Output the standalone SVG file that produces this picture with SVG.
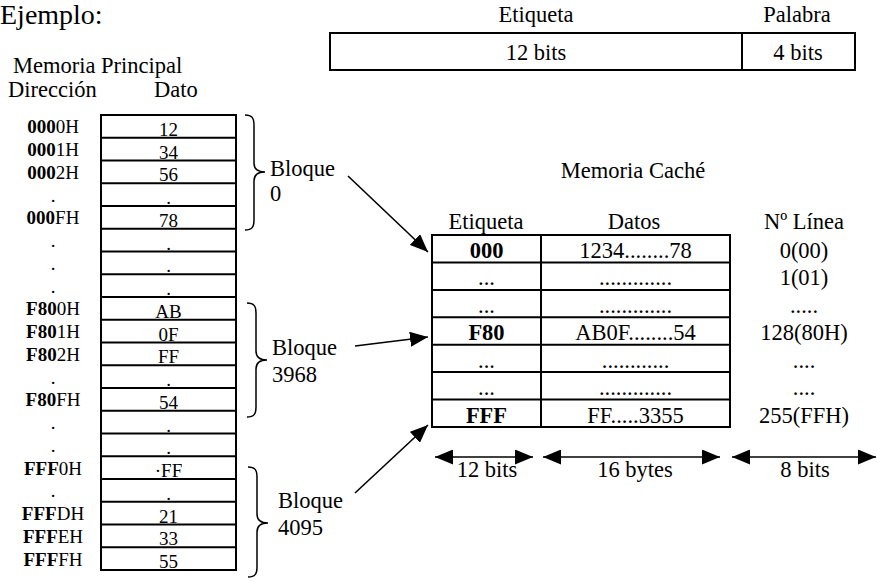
<svg xmlns="http://www.w3.org/2000/svg" width="877" height="582" viewBox="0 0 877 582" font-family="'Liberation Serif', 'Times New Roman', 'DejaVu Serif', serif">
<style>
text{font-family:'Liberation Serif','Times New Roman','DejaVu Serif',serif;fill:#000}
.h{font-size:22.5px}
.c{font-size:19px;text-anchor:middle}
.m{text-anchor:middle}
.b{font-weight:bold}
.box{fill:#fff;stroke:#000;stroke-width:2}
.ln{stroke:#000;stroke-width:2}
.br{fill:none;stroke:#000;stroke-width:1.5}
.ar{stroke:#000;stroke-width:1.6;fill:none}
</style>
<defs>
<marker id="ah" markerUnits="userSpaceOnUse" markerWidth="19" markerHeight="15" refX="18" refY="7.5" orient="auto-start-reverse"><path d="M0,0 L18,7.5 L0,15 z" fill="#000"/></marker>
</defs>
<rect width="877" height="582" fill="#fff"/>
<text x="0" y="24" style="font-size:28px">Ejemplo:</text>

<g id="direccion-formato">
<text class="h m" x="536" y="22">Etiqueta</text>
<text class="h m" x="797" y="22">Palabra</text>
<rect class="box" x="330" y="33" width="525" height="37"/>
<line class="ln" x1="742" y1="33" x2="742" y2="70"/>
<text class="h m" x="536" y="60">12 bits</text>
<text class="h m" x="798" y="60">4 bits</text>
</g>

<g id="memoria-principal">
<text class="h" x="13" y="73">Memoria Principal</text>
<text class="h" x="8" y="97">Dirección</text>
<text class="h" x="154" y="97">Dato</text>
<rect class="box" x="101" y="115" width="135" height="455"/>
<g class="ln">
<line x1="101" y1="137.75" x2="236" y2="137.75"/>
<line x1="101" y1="160.5" x2="236" y2="160.5"/>
<line x1="101" y1="183.25" x2="236" y2="183.25"/>
<line x1="101" y1="206" x2="236" y2="206"/>
<line x1="101" y1="228.75" x2="236" y2="228.75"/>
<line x1="101" y1="251.5" x2="236" y2="251.5"/>
<line x1="101" y1="274.25" x2="236" y2="274.25"/>
<line x1="101" y1="297" x2="236" y2="297"/>
<line x1="101" y1="319.75" x2="236" y2="319.75"/>
<line x1="101" y1="342.5" x2="236" y2="342.5"/>
<line x1="101" y1="365.25" x2="236" y2="365.25"/>
<line x1="101" y1="388" x2="236" y2="388"/>
<line x1="101" y1="410.75" x2="236" y2="410.75"/>
<line x1="101" y1="433.5" x2="236" y2="433.5"/>
<line x1="101" y1="456.25" x2="236" y2="456.25"/>
<line x1="101" y1="479" x2="236" y2="479"/>
<line x1="101" y1="501.75" x2="236" y2="501.75"/>
<line x1="101" y1="524.5" x2="236" y2="524.5"/>
<line x1="101" y1="547.25" x2="236" y2="547.25"/>
</g>
<g class="c">
<text x="168.5" y="136">12</text>
<text x="168.5" y="158.5">34</text>
<text x="168.5" y="181.2">56</text>
<text x="168.5" y="204">.</text>
<text x="168.5" y="226.7">78</text>
<text x="168.5" y="249.5">.</text>
<text x="168.5" y="272.2">.</text>
<text x="168.5" y="295">.</text>
<text x="168.5" y="317.7">AB</text>
<text x="168.5" y="340.5">0F</text>
<text x="168.5" y="363.2">FF</text>
<text x="168.5" y="386">.</text>
<text x="168.5" y="408.7">54</text>
<text x="168.5" y="431.5">.</text>
<text x="168.5" y="454.2">.</text>
<text x="168.5" y="477">·FF</text>
<text x="168.5" y="499.7">.</text>
<text x="168.5" y="522.5">21</text>
<text x="168.5" y="545.2">33</text>
<text x="168.5" y="568">55</text>
</g>
<g class="c">
<text x="53" y="133.3"><tspan class="b">000</tspan>0H</text>
<text x="53" y="156"><tspan class="b">000</tspan>1H</text>
<text x="53" y="178.8"><tspan class="b">000</tspan>2H</text>
<text x="53" y="201.5">.</text>
<text x="53" y="224.3"><tspan class="b">000</tspan>FH</text>
<text x="53" y="247">.</text>
<text x="53" y="269.8">.</text>
<text x="53" y="292.5">.</text>
<text x="53" y="315.3"><tspan class="b">F80</tspan>0H</text>
<text x="53" y="338"><tspan class="b">F80</tspan>1H</text>
<text x="53" y="360.8"><tspan class="b">F80</tspan>2H</text>
<text x="53" y="383.5">.</text>
<text x="53" y="406.3"><tspan class="b">F80</tspan>FH</text>
<text x="53" y="429">.</text>
<text x="53" y="451.8">.</text>
<text x="53" y="474.5"><tspan class="b">FFF</tspan>0H</text>
<text x="53" y="497.3">.</text>
<text x="53" y="520"><tspan class="b">FFF</tspan>DH</text>
<text x="53" y="542.8"><tspan class="b">FFF</tspan>EH</text>
<text x="53" y="565.5"><tspan class="b">FFF</tspan>FH</text>
</g>
</g>

<g id="bloque-0">
<path class="br" d="M245,115 C252,115 254,118 254,125 L254,163 C254,169 258,172 265,172 C258,172 254,175 254,181 L254,220 C254,227 252,230 245,230"/>
<text class="h" x="270" y="176">Bloque</text>
<text class="h" x="270" y="201">0</text>
</g>
<g id="bloque-3968">
<path class="br" d="M247,303 C254,303 256,306 256,313 L256,351 C256,357 260,360 267,360 C260,360 256,363 256,369 L256,407 C256,414 254,417 247,417"/>
<text class="h" x="272" y="355">Bloque</text>
<text class="h" x="272" y="382">3968</text>
</g>
<g id="bloque-4095">
<path class="br" d="M248,467 C255,467 257,470 257,477 L257,514 C257,520 261,523 268,523 C261,523 257,526 257,532 L257,567 C257,574 255,577 248,577"/>
<text class="h" x="278" y="508">Bloque</text>
<text class="h" x="278" y="535">4095</text>
</g>

<g id="memoria-cache">
<text class="h m" x="633" y="178">Memoria Caché</text>
<text class="h m" x="486" y="229">Etiqueta</text>
<text class="h m" x="634" y="229">Datos</text>
<text class="h m" x="804" y="229">Nº Línea</text>
<rect class="box" x="432" y="235" width="298" height="192"/>
<g class="ln">
<line x1="541" y1="235" x2="541" y2="427"/>
<line x1="432" y1="262.4" x2="730" y2="262.4"/>
<line x1="432" y1="289.9" x2="730" y2="289.9"/>
<line x1="432" y1="317.3" x2="730" y2="317.3"/>
<line x1="432" y1="344.7" x2="730" y2="344.7"/>
<line x1="432" y1="372.1" x2="730" y2="372.1"/>
<line x1="432" y1="399.6" x2="730" y2="399.6"/>
</g>
<g class="h m">
<text x="486.5" y="258" class="b">000</text>
<text x="635.5" y="258">1234........78</text>
<text x="804" y="258">0(00)</text>
<text x="486.5" y="285">...</text>
<text x="635.5" y="285">.............</text>
<text x="804" y="285">1(01)</text>
<text x="486.5" y="312.5">...</text>
<text x="635.5" y="312.5">.............</text>
<text x="804" y="312.5">.....</text>
<text x="486.5" y="340" class="b">F80</text>
<text x="635.5" y="340">AB0F........54</text>
<text x="804" y="340">128(80H)</text>
<text x="486.5" y="367.5">...</text>
<text x="635.5" y="367.5">............</text>
<text x="804" y="367.5">....</text>
<text x="486.5" y="395">...</text>
<text x="635.5" y="395">.............</text>
<text x="804" y="395">....</text>
<text x="486.5" y="422.5" class="b">FFF</text>
<text x="635.5" y="422.5">FF.....3355</text>
<text x="804" y="422.5">255(FFH)</text>
</g>
</g>

<g id="medidas">
<text class="h m" x="487" y="477">12 bits</text>
<text class="h m" x="635" y="477">16 bytes</text>
<text class="h m" x="805" y="477">8 bits</text>
</g>

<g id="connectors">
<line class="ar" x1="348" y1="176" x2="428" y2="252" marker-end="url(#ah)"/>
<line class="ar" x1="355" y1="346" x2="428" y2="337" marker-end="url(#ah)"/>
<line class="ar" x1="355" y1="493" x2="428" y2="425" marker-end="url(#ah)"/>
<line class="ar" x1="435" y1="457" x2="533" y2="457" marker-start="url(#ah)" marker-end="url(#ah)"/>
<line class="ar" x1="543" y1="457" x2="720" y2="457" marker-start="url(#ah)" marker-end="url(#ah)"/>
<line class="ar" x1="732" y1="457" x2="876" y2="457" marker-start="url(#ah)" marker-end="url(#ah)"/>
</g>
</svg>
